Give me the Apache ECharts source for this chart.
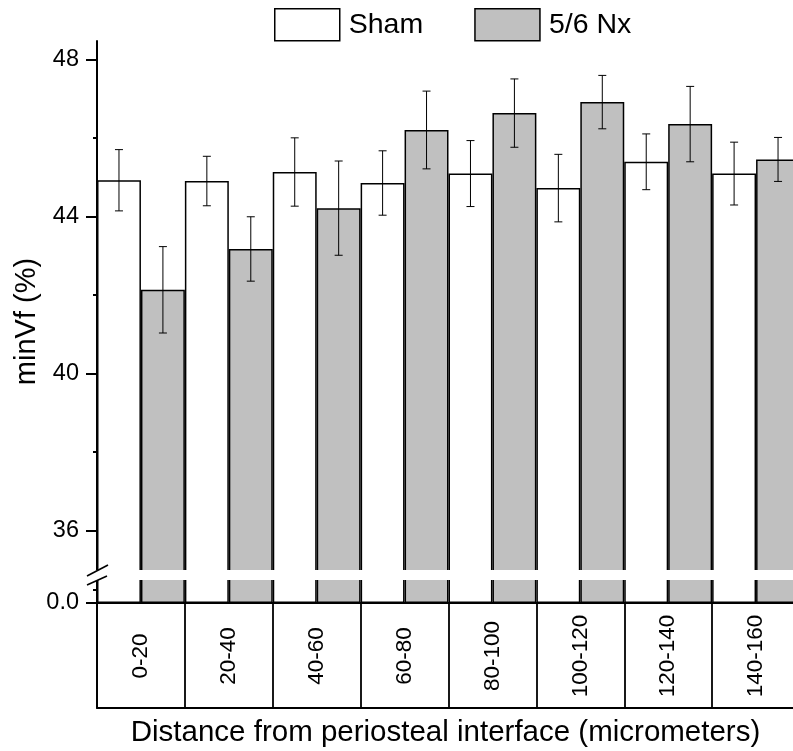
<!DOCTYPE html>
<html>
<head>
<meta charset="utf-8">
<script src="https://cdn.jsdelivr.net/npm/echarts@6/dist/echarts.min.js"></script>
<style>html,body{margin:0;padding:0;background:#fff;}#c{width:793px;height:751px;}</style>
</head>
<body>
<div id="c"></div>
<script>
const categories = ['0-20','20-40','40-60','60-80','80-100','100-120','120-140','140-160'];
const shamMean = [44.92, 44.90, 45.13, 44.85, 45.09, 44.72, 45.39, 45.09];
const shamErr  = [0.78, 0.63, 0.87, 0.82, 0.84, 0.86, 0.71, 0.80];
const nxMean   = [42.13, 43.17, 44.21, 46.20, 46.63, 46.91, 46.35, 45.45];
const nxErr    = [1.10, 0.82, 1.20, 0.99, 0.87, 0.68, 0.96, 0.56];
const upperTicks = [36, 40, 44, 48];
const upperMinorTicks = [38, 42, 46];
const lowerTicks = [0];
const lowerMinorTicks = [0.52];

// layout
const L = 97, W = 703;
const UP_TOP = 41, UP_H = 531;
const LO_TOP = 578, LO_H = 25;
const BOX_TOP = 603, BOX_H = 105;
const GAP_TOP = 570, GAP_BOT = 580;
const UP_MAX = 48.466, UP_MIN = 34.944;

const FONT = 'Liberation Sans, Arial, sans-serif';
const black = '#000';
const gray = '#c0c0c0';

function errData(mean, err, side) {
  return mean.map((m, i) => [i, m - err[i], m + err[i], side]);
}
function renderErr(params, api) {
  const cat = api.value(0), lo = api.value(1), hi = api.value(2), side = api.value(3);
  const bw = api.size([1, 0])[0];
  const pLo = api.coord([cat, lo]);
  const pHi = api.coord([cat, hi]);
  const x = pLo[0] + side * bw / 4;
  const cw = 4;
  const st = { stroke: '#000', lineWidth: 1 };
  return { type: 'group', children: [
    { type: 'line', shape: { x1: x, y1: pLo[1], x2: x, y2: pHi[1] }, style: st },
    { type: 'line', shape: { x1: x - cw, y1: pHi[1], x2: x + cw, y2: pHi[1] }, style: st },
    { type: 'line', shape: { x1: x - cw, y1: pLo[1], x2: x + cw, y2: pLo[1] }, style: st }
  ]};
}

const shamStyle = { color: '#fff', borderColor: black, borderWidth: 1.5 };
const nxStyle = { color: gray, borderColor: black, borderWidth: 1.5 };

const chart = echarts.init(document.getElementById('c'), null, { renderer: 'canvas' });
const gridBase = { left: L, width: W, outerBoundsMode: 'none', containLabel: false };
const option = {
  animation: false,
  backgroundColor: '#fff',
  textStyle: { fontFamily: FONT, color: black },
  legend: {
    left: 274, top: 8, padding: 0,
    icon: 'rect',
    itemWidth: 65, itemHeight: 32, itemGap: 51,
    textStyle: { fontSize: 28.5, color: black, fontFamily: FONT, padding: [0, 0, 0, 4] },
    data: [
      { name: 'Sham', icon: 'rect', itemStyle: shamStyle },
      { name: '5/6 Nx', icon: 'rect', itemStyle: nxStyle }
    ]
  },
  grid: [
    Object.assign({ top: UP_TOP, height: UP_H }, gridBase),
    Object.assign({ top: LO_TOP, height: LO_H }, gridBase),
    Object.assign({ top: BOX_TOP, height: BOX_H, show: true, borderColor: black, borderWidth: 1.8, backgroundColor: 'transparent' }, gridBase)
  ],
  xAxis: [
    { gridIndex: 0, type: 'category', data: categories, show: false },
    { gridIndex: 1, type: 'category', data: categories,
      axisLine: { show: true, lineStyle: { color: black, width: 2 } },
      axisTick: { show: false }, axisLabel: { show: false }, splitLine: { show: false } },
    { gridIndex: 2, type: 'category', data: categories, position: 'bottom',
      axisLine: { show: false }, axisTick: { show: false },
      splitLine: { show: true, lineStyle: { color: black, width: 1.8 } },
      axisLabel: { inside: true, rotate: 90, margin: 52, align: 'center', verticalAlign: 'middle',
        fontSize: 22.5, color: black, fontFamily: FONT },
      name: 'Distance from periosteal interface (micrometers)',
      nameLocation: 'middle', nameGap: 10,
      nameTextStyle: { fontSize: 29.5, color: black, fontFamily: FONT, padding: [0, 6, 0, 0] } }
  ],
  yAxis: [
    { gridIndex: 0, type: 'value', min: UP_MIN, max: UP_MAX, position: 'left',
      axisLine: { show: true, lineStyle: { color: black, width: 2 } },
      axisTick: { show: true, length: 11, customValues: upperTicks, lineStyle: { color: black, width: 2 } },
      axisLabel: { customValues: upperTicks, fontSize: 23.5, color: black, margin: 18, fontFamily: FONT },
      splitLine: { show: false },
      name: 'minVf (%)', nameLocation: 'middle', nameRotate: 90, nameGap: 56,
      nameTextStyle: { fontSize: 29, color: black, fontFamily: FONT, padding: [0, 30, 0, 0] } },
    { gridIndex: 0, type: 'value', min: UP_MIN, max: UP_MAX, position: 'left',
      axisLine: { show: false },
      axisTick: { show: true, length: 4, customValues: upperMinorTicks, lineStyle: { color: black, width: 2 } },
      axisLabel: { show: false }, splitLine: { show: false } },
    { gridIndex: 1, type: 'value', min: 0, max: 1, position: 'left',
      axisLine: { show: true, lineStyle: { color: black, width: 2 } },
      axisTick: { show: true, length: 11, customValues: lowerTicks, lineStyle: { color: black, width: 2 } },
      axisLabel: { customValues: lowerTicks, formatter: v => v.toFixed(1), fontSize: 23.5, color: black, margin: 18, fontFamily: FONT },
      splitLine: { show: false } },
    { gridIndex: 1, type: 'value', min: 0, max: 1, position: 'left',
      axisLine: { show: false },
      axisTick: { show: true, length: 4, customValues: lowerMinorTicks, lineStyle: { color: black, width: 2 } },
      axisLabel: { show: false }, splitLine: { show: false } },
    { gridIndex: 2, type: 'value', show: false }
  ],
  series: [
    { name: 'Sham', type: 'bar', xAxisIndex: 0, yAxisIndex: 0, data: shamMean, itemStyle: shamStyle,
      barGap: '0%', barCategoryGap: '0%', clip: true, z: 2 },
    { name: '5/6 Nx', type: 'bar', xAxisIndex: 0, yAxisIndex: 0, data: nxMean, itemStyle: nxStyle,
      barGap: '0%', barCategoryGap: '0%', clip: true, z: 2 },
    { name: 'Sham', type: 'bar', xAxisIndex: 1, yAxisIndex: 2, data: shamMean, itemStyle: shamStyle,
      barGap: '0%', barCategoryGap: '0%', clip: true, z: 2 },
    { name: '5/6 Nx', type: 'bar', xAxisIndex: 1, yAxisIndex: 2, data: nxMean, itemStyle: nxStyle,
      barGap: '0%', barCategoryGap: '0%', clip: true, z: 2 },
    { name: 'errSham', type: 'custom', xAxisIndex: 0, yAxisIndex: 0, renderItem: renderErr,
      data: errData(shamMean, shamErr, -1), encode: { x: 0, y: [1, 2] }, z: 4 },
    { name: 'errNx', type: 'custom', xAxisIndex: 0, yAxisIndex: 0, renderItem: renderErr,
      data: errData(nxMean, nxErr, 1), encode: { x: 0, y: [1, 2] }, z: 4 }
  ],
  graphic: [
    { type: 'rect', z: 100, shape: { x: L - 4, y: GAP_TOP, width: W + 10, height: GAP_BOT - GAP_TOP },
      style: { fill: '#fff' } },
    { type: 'line', z: 101, shape: { x1: L - 10, y1: GAP_TOP + 6, x2: L + 11, y2: GAP_TOP - 5 },
      style: { stroke: black, lineWidth: 1.6 } },
    { type: 'line', z: 101, shape: { x1: L - 10, y1: GAP_BOT + 5, x2: L + 10, y2: GAP_BOT - 4 },
      style: { stroke: black, lineWidth: 1.6 } }
  ]
};
chart.setOption(option);
</script>
</body>
</html>
